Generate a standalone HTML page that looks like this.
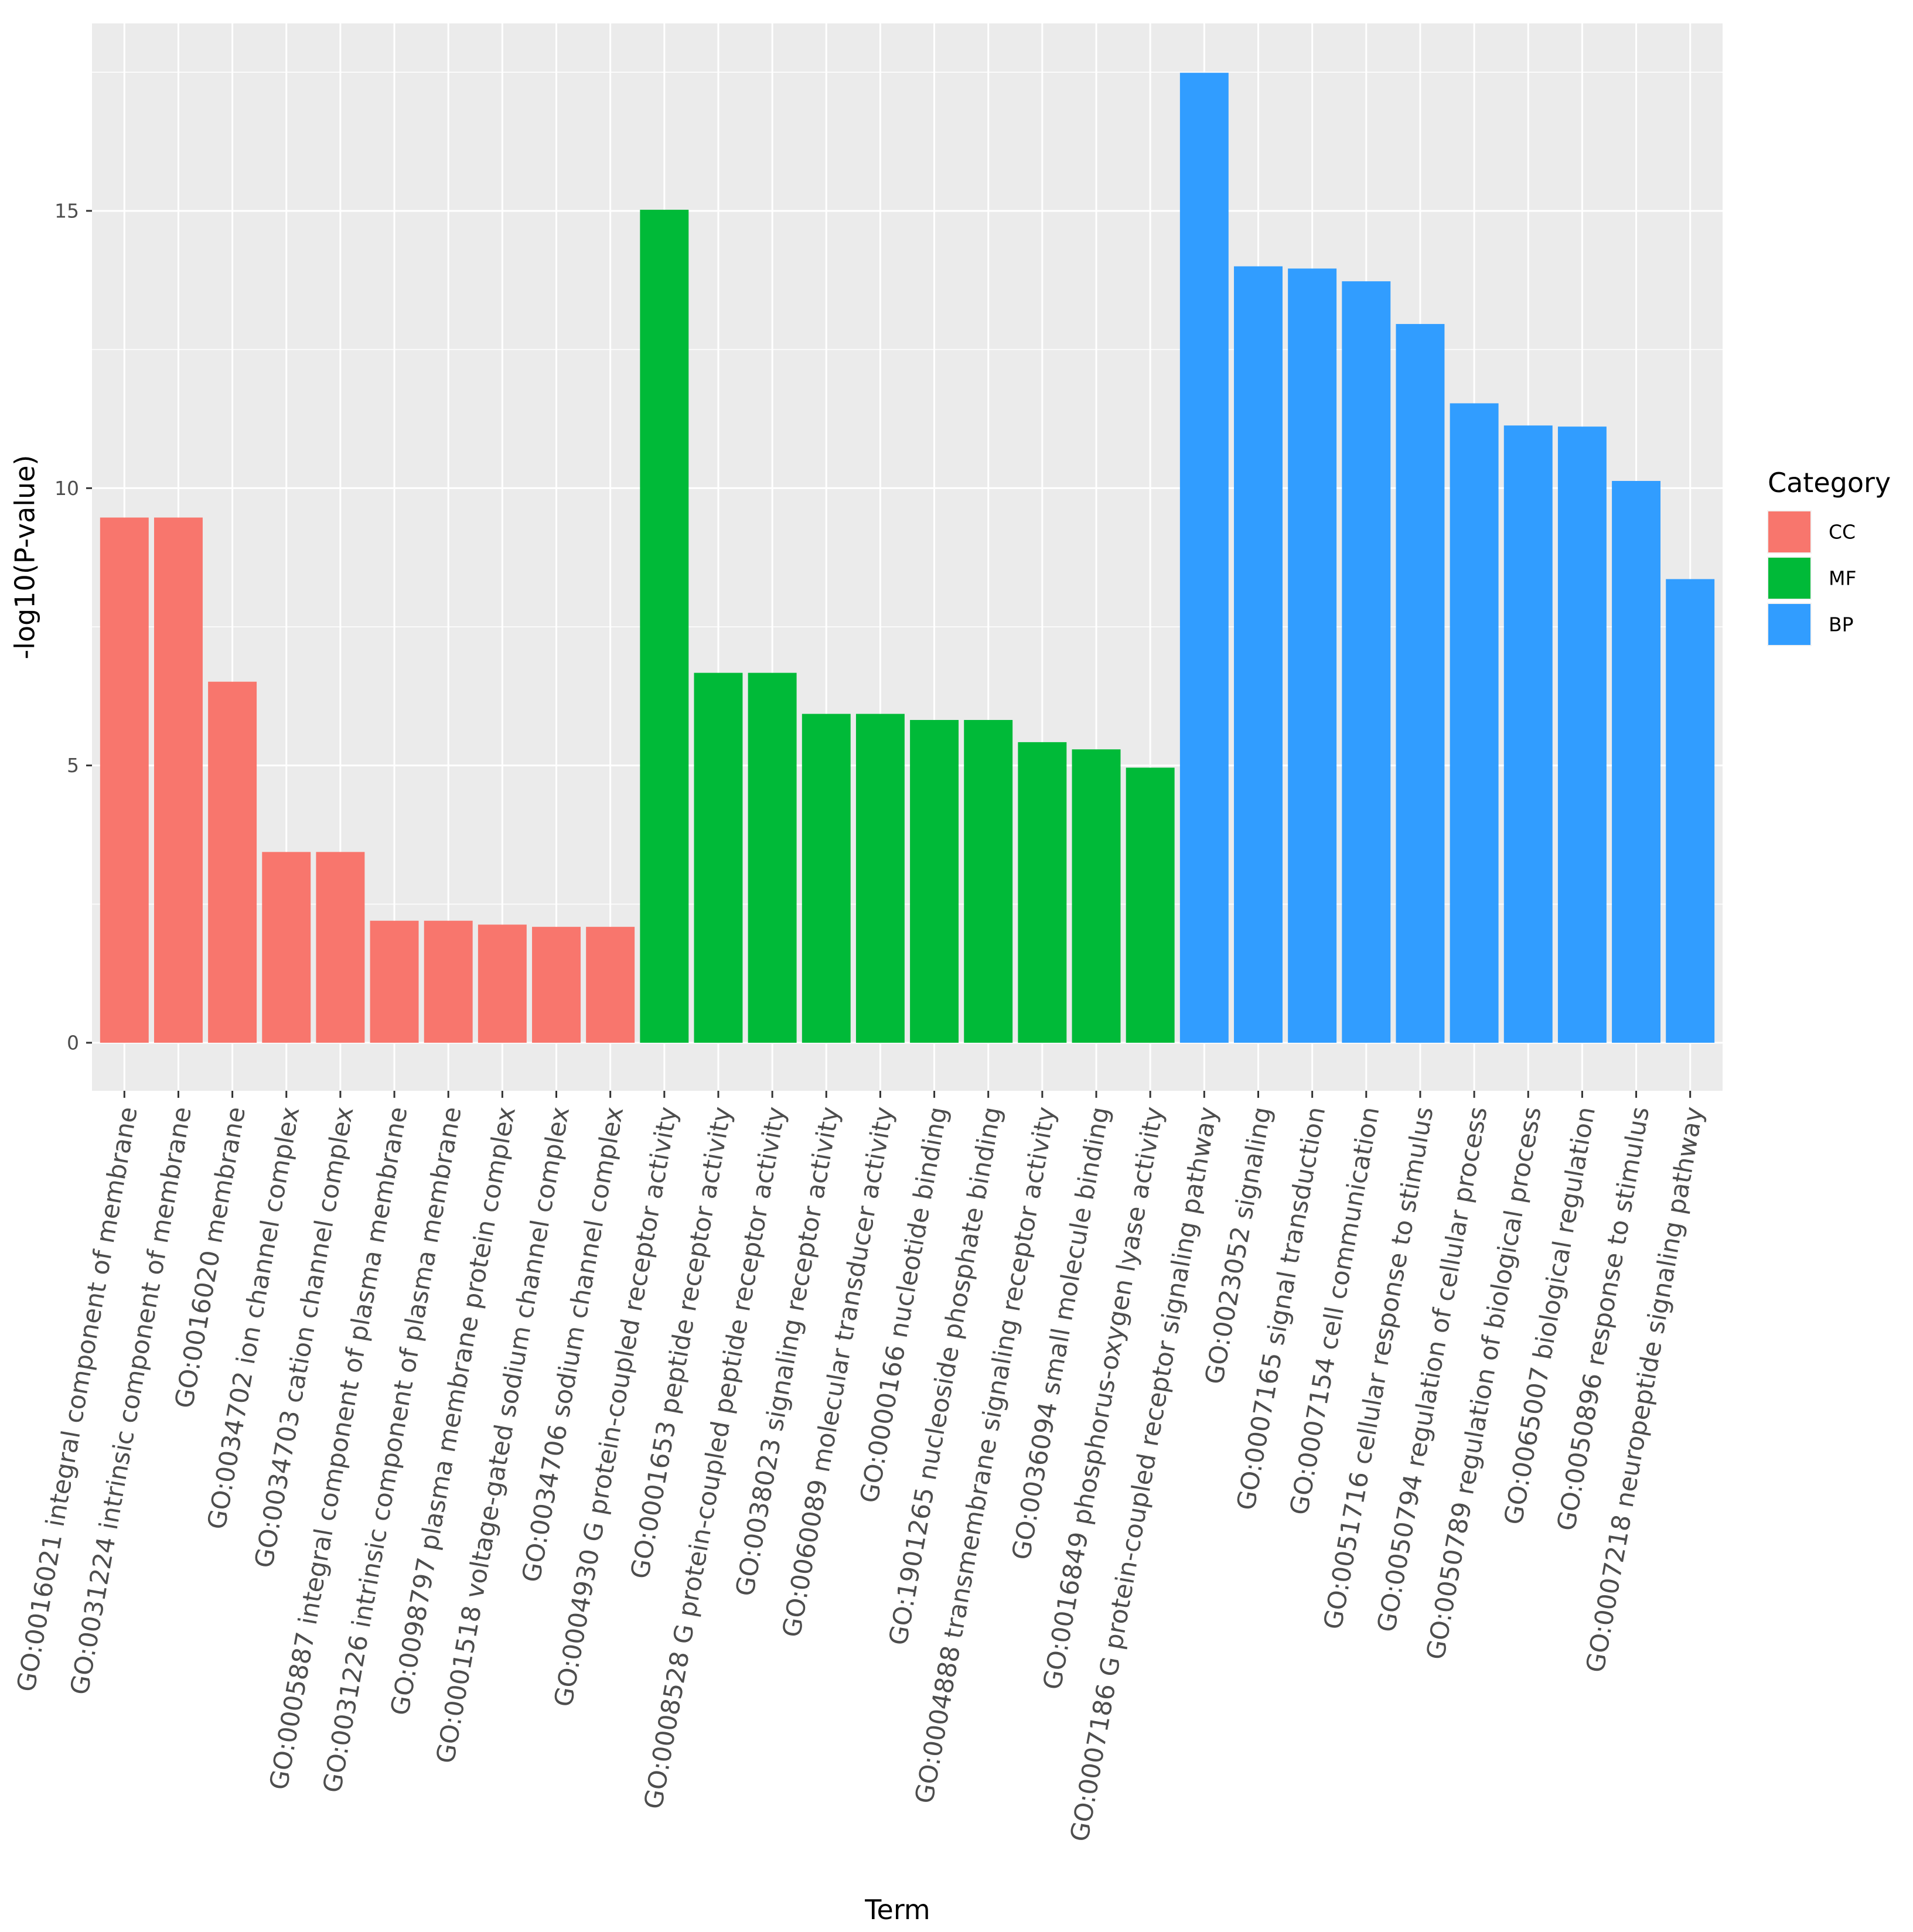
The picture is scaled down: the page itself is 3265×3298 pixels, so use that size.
<!DOCTYPE html>
<html><head><meta charset="utf-8"><style>
html,body{margin:0;padding:0;background:#fff;}
svg{display:block;font-family:"DejaVu Sans","Liberation Sans",sans-serif;}
</style></head><body>
<svg id="chart" width="3265" height="3298" viewBox="0 0 3265 3298" xmlns="http://www.w3.org/2000/svg">
<rect width="3265" height="3298" fill="#fff"/>
<g id="panel"></g>
<g id="xaxis"></g>
<g id="yaxis"></g>
<text x="46" y="951" transform="rotate(-90 46 951)" text-anchor="middle" dominant-baseline="middle" font-size="46" fill="#000">-log10(P-value)</text>
<text x="1532" y="3276" text-anchor="middle" font-size="46" fill="#000">Term</text>
<g id="legend">
<text x="3017" y="840" font-size="46" fill="#000">Category</text>
</g>
</svg>
<script>
const terms = ["GO:0016021 integral component of membrane","GO:0031224 intrinsic component of membrane","GO:0016020 membrane","GO:0034702 ion channel complex","GO:0034703 cation channel complex","GO:0005887 integral component of plasma membrane","GO:0031226 intrinsic component of plasma membrane","GO:0098797 plasma membrane protein complex","GO:0001518 voltage-gated sodium channel complex","GO:0034706 sodium channel complex","GO:0004930 G protein-coupled receptor activity","GO:0001653 peptide receptor activity","GO:0008528 G protein-coupled peptide receptor activity","GO:0038023 signaling receptor activity","GO:0060089 molecular transducer activity","GO:0000166 nucleotide binding","GO:1901265 nucleoside phosphate binding","GO:0004888 transmembrane signaling receptor activity","GO:0036094 small molecule binding","GO:0016849 phosphorus-oxygen lyase activity","GO:0007186 G protein-coupled receptor signaling pathway","GO:0023052 signaling","GO:0007165 signal transduction","GO:0007154 cell communication","GO:0051716 cellular response to stimulus","GO:0050794 regulation of cellular process","GO:0050789 regulation of biological process","GO:0065007 biological regulation","GO:0050896 response to stimulus","GO:0007218 neuropeptide signaling pathway"];
const values = [9.47,9.47,6.51,3.44,3.44,2.2,2.2,2.13,2.09,2.09,15.02,6.67,6.67,5.93,5.93,5.82,5.82,5.42,5.29,4.96,17.49,14.0,13.96,13.73,12.96,11.53,11.13,11.11,10.13,8.36];
const categories = ["CC","CC","CC","CC","CC","CC","CC","CC","CC","CC","MF","MF","MF","MF","MF","MF","MF","MF","MF","MF","BP","BP","BP","BP","BP","BP","BP","BP","BP","BP"];
const legendLabels = ["CC","MF","BP"];
const yTicks = [0,5,10,15];
const yMinor = [2.5,7.5,12.5,17.5];

const colors = {CC:"#F8766D",MF:"#00BA38",BP:"#319DFF"};
const NS="http://www.w3.org/2000/svg";
const PL=157, PR=2940, PT=40, PB=1862;
const Y0=1780, PXU=94.67;
const n=terms.length;
const step=(PR-PL)/(n+0.2);
function xc(i){return PL+step*(0.6+i);}
function y(v){return Y0-v*PXU;}
function mk(tag,attrs,parent){const e=document.createElementNS(NS,tag);for(const k in attrs)e.setAttribute(k,attrs[k]);parent.appendChild(e);return e;}
const panel=document.getElementById('panel'), xa=document.getElementById('xaxis'), ya=document.getElementById('yaxis'), lg=document.getElementById('legend');
let r=mk('rect',{x:PL,y:PT,width:PR-PL,height:PB-PT,fill:'#EBEBEB'},panel);


yMinor.forEach(v=>{const l=mk('line',{x1:PL,x2:PR,y1:y(v),y2:y(v),stroke:'#fff','stroke-width':1.5},panel);

});
yTicks.forEach(v=>{const l=mk('line',{x1:PL,x2:PR,y1:y(v),y2:y(v),stroke:'#fff','stroke-width':3},panel);


const t=mk('line',{x1:PL-10,x2:PL,y1:y(v),y2:y(v),stroke:'#333','stroke-width':3},ya);


const tx=mk('text',{x:PL-22,y:y(v),'text-anchor':'end','dominant-baseline':'central','font-size':33,fill:'#4D4D4D'},ya);
tx.textContent=v;

});
for(let i=0;i<n;i++){const c=xc(i);
const g=mk('line',{x1:c,x2:c,y1:PT,y2:PB,stroke:'#fff','stroke-width':3},panel);

}
const bw=step*0.9;
for(let i=0;i<n;i++){const c=xc(i);
const b=mk('rect',{x:c-bw/2,y:y(values[i]),width:bw,height:Y0-y(values[i]),fill:colors[categories[i]]},panel);


const t=mk('line',{x1:c,x2:c,y1:PB,y2:PB+12,stroke:'#333','stroke-width':3},xa);


const ty=PB+28;
const tx=mk('text',{x:c+8,y:ty,'text-anchor':'end','dominant-baseline':'central','font-size':43,fill:'#4D4D4D',transform:`rotate(-80 ${c+8} ${ty})`},xa);
tx.textContent=terms[i];

}
legendLabels.forEach((lab,k)=>{const ky=872+k*79;
const kb=mk('rect',{x:3016,y:ky-1,width:76,height:74,fill:'#F2F2F2'},lg);


const s=mk('rect',{x:3018,y:ky+1,width:72,height:70,fill:colors[lab]},lg);


const t=mk('text',{x:3121,y:ky+36,'dominant-baseline':'central','font-size':33,fill:'#000'},lg);
t.textContent=lab;

});
</script>
</body></html>
